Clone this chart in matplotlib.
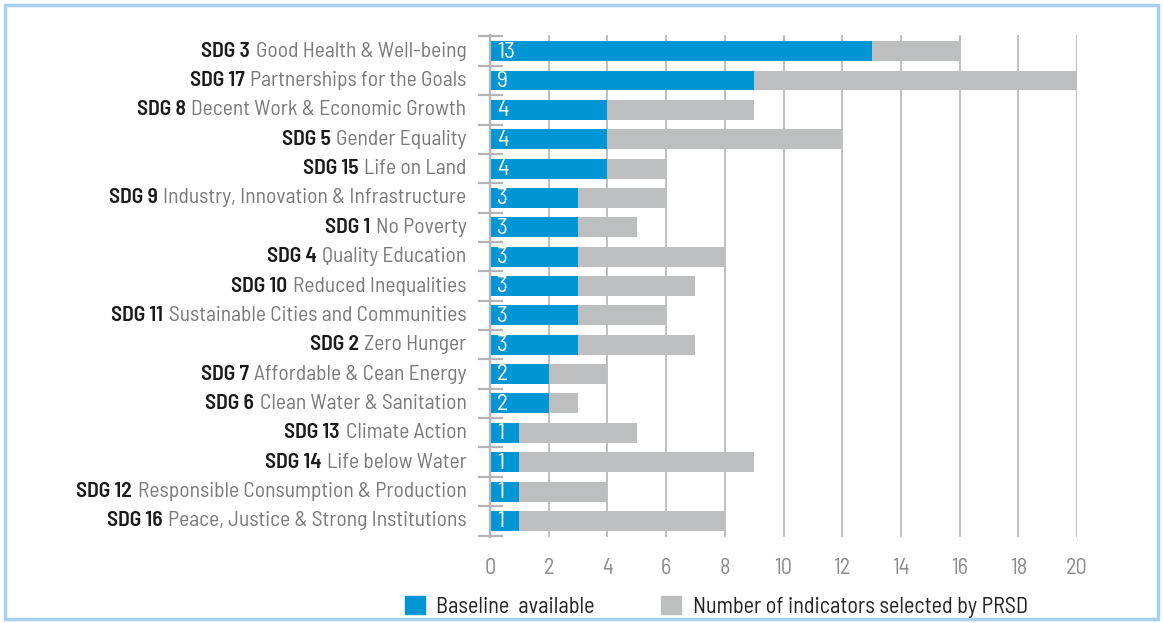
import matplotlib
matplotlib.use("Agg")
import matplotlib.pyplot as plt
from matplotlib.patches import Patch, Rectangle
from matplotlib.offsetbox import TextArea, HPacker, AnnotationBbox
import matplotlib.font_manager as fm

# data, top to bottom as in the chart
sdg_codes = ["SDG 3", "SDG 17", "SDG 8", "SDG 5", "SDG 15", "SDG 9", "SDG 1", "SDG 4",
             "SDG 10", "SDG 11", "SDG 2", "SDG 7", "SDG 6", "SDG 13", "SDG 14", "SDG 12", "SDG 16"]
sdg_names = ["Good Health & Well-being", "Partnerships for the Goals",
             "Decent Work & Economic Growth", "Gender Equality", "Life on Land",
             "Industry, Innovation & Infrastructure", "No Poverty", "Quality Education",
             "Reduced Inequalities", "Sustainable Cities and Communities", "Zero Hunger",
             "Affordable & Cean Energy", "Clean Water & Sanitation", "Climate Action",
             "Life below Water", "Responsible Consumption & Production",
             "Peace, Justice & Strong Institutions"]
baseline = [13, 9, 4, 4, 4, 3, 3, 3, 3, 3, 3, 2, 2, 1, 1, 1, 1]
selected = [16, 20, 9, 12, 6, 6, 5, 8, 7, 6, 7, 4, 3, 5, 9, 4, 8]

names = {f.name for f in fm.fontManager.ttflist}
family = "DejaVu Sans"
for cand in ["Barlow Semi Condensed", "Roboto Condensed", "Archivo Narrow", "Asap Condensed"]:
    if cand in names:
        family = cand
        break
plt.rcParams["font.family"] = [family, "DejaVu Sans"]

blue = "#0096d6"
grey_bar = "#bdbec0"
fs = 16
label_fs = 15.5

fig = plt.figure(figsize=(11.63, 6.23), dpi=100)
ax = fig.add_axes([0.4213, 0.138, 0.5048, 0.8058])

y = list(range(len(sdg_codes)))
rest = [s - b for s, b in zip(selected, baseline)]
ax.barh(y, baseline, height=0.68, color=blue, zorder=3)
ax.barh(y, rest, left=baseline, height=0.68, color=grey_bar, zorder=3)

for yi, b in zip(y, baseline):
    ax.text(0.25, yi + 0.03, str(b), color="white", fontsize=fs + 1, va="center", ha="left", zorder=4)

ax.set_xlim(0, 20)
ax.set_ylim(len(y) - 0.45, -0.55)
ax.set_xticks(range(0, 21, 2))
ax.grid(axis="x", color="#bfbfbf", linewidth=1.4, zorder=0)
for s in ["top", "right", "bottom"]:
    ax.spines[s].set_visible(False)
ax.spines["left"].set_color("#b5b5b5")
ax.spines["left"].set_linewidth(1.6)
ax.spines["left"].set_zorder(5)
ax.tick_params(axis="x", length=0, labelsize=fs, labelcolor="#8c8c8c", pad=15)
ax.set_yticks([])
ax.set_yticks([i - 0.5 for i in range(len(y) + 1)], minor=True)
ax.tick_params(axis="y", which="minor", direction="inout", length=18, width=1.6, color="#b5b5b5")

# two-colour category labels
for yi, code, name in zip(y, sdg_codes, sdg_names):
    t1 = TextArea(code, textprops=dict(color="#1a1a1a", fontsize=label_fs, fontweight="semibold"))
    t2 = TextArea(name, textprops=dict(color="#7a7a7a", fontsize=label_fs))
    box = HPacker(children=[t1, t2], align="baseline", pad=0, sep=4)
    ab = AnnotationBbox(box, (-0.04, yi), xycoords=ax.get_yaxis_transform(),
                        box_alignment=(1, 0.5), frameon=False, pad=0,
                        annotation_clip=False)
    ax.add_artist(ab)

handles = [Patch(color=blue), Patch(color=grey_bar)]
fig.legend(handles, ["Baseline  available", "Number of indicators selected by PRSD"],
           loc="center", bbox_to_anchor=(0.616, 0.026), ncol=2, frameon=False,
           fontsize=fs, handlelength=0.9, handleheight=0.9, handletextpad=0.5,
           columnspacing=3.0, labelcolor="#222222")

fig.patches.append(Rectangle((0.004, 0.006), 0.992, 0.986, transform=fig.transFigure,
                             fill=False, edgecolor="#a9d0f2", linewidth=2.5))

fig.savefig("out.png", dpi=100)
